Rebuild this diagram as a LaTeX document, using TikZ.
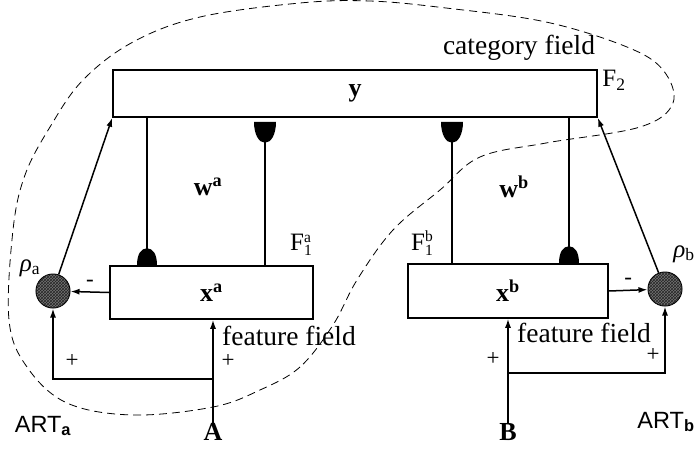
\documentclass[tikz,border=0pt]{standalone}
\usepackage{fontspec}
\setmainfont{Liberation Serif}
\setsansfont{Liberation Sans}
\usetikzlibrary{arrows.meta,patterns}

\newcommand{\fscript}[2]{\raisebox{-5pt}{\shortstack[l]{\fontsize{15.5}{16.5}\selectfont #2\\\fontsize{15.5}{16.5}\selectfont #1}}}

\tikzset{
  field/.style={draw, line width=1.5pt, inner sep=0pt, font=\fontsize{26}{28}\selectfont\bfseries},
  vigil/.style={circle, draw, line width=1pt, minimum size=34pt, inner sep=0pt, fill=black!55,
    postaction={pattern=crosshatch, pattern color=black!85}},
  conn/.style={line width=1.5pt, -{Latex[length=9pt,width=6pt]}},
  wire/.style={line width=1.3pt},
  txt/.style={font=\fontsize{27.5}{30}\selectfont, inner sep=0pt},
  var/.style={font=\fontsize{26}{28}\selectfont\bfseries, inner sep=0pt},
  fld/.style={font=\fontsize{25}{27}\selectfont, inner sep=0pt},
  sgn/.style={font=\fontsize{23}{24}\selectfont, inner sep=0pt},
  artlbl/.style={font=\fontsize{23.5}{26}\selectfont\sffamily, inner sep=0pt},
  dome/.pic={\fill (-10,0) -- (10,0) .. controls (10,-11) and (6,-17) .. (0,-17) .. controls (-6,-17) and (-10,-11) .. (-10,0) -- cycle;},
  cup/.pic={\fill (-11,0) -- (11,0) .. controls (11,13) and (6,21) .. (0,21) .. controls (-6,21) and (-11,13) .. (-11,0) -- cycle;}
}

\begin{document}
\begin{tikzpicture}[x=1pt, y=-1pt]
    \useasboundingbox (0,0) rectangle (696,448);

    % ART_a / ART_b boundary
    \draw[dash pattern=on 8pt off 5pt, line width=0.8pt] plot[smooth cycle, tension=0.6] coordinates {
        (333,325) (300,367) (260,390) (213,407) (133,415) (67,403) (27,367) (9,320)
        (13,230) (25,175) (50,127) (83,80) (133,42) (200,17) (300,3) (370,1) (446,8)
        (546,22) (627,47) (663,70) (673,103) (640,127) (546,143) (480,157) (440,190)
        (393,230) (357,280)};

    % fields
    \node[field, minimum width=484pt, minimum height=47pt] (ybox) at (355,93.5) {y};
    \node[field, minimum width=203pt, minimum height=53pt] (xa) at (211.5,292.5) {x\textsuperscript{a}};
    \node[field, minimum width=200pt, minimum height=54pt] (xb) at (508,291) {x\textsuperscript{b}};

    % vigilance nodes
    \node[vigil] (rhoa) at (53,291) {};
    \node[vigil] (rhob) at (665,289) {};

    % field labels
    \node[txt] (catlbl) at (519,48) {category field};
    \node[txt, anchor=west] (feata) at (222,336) {feature field};
    \node[txt, anchor=west] (featb) at (517,333) {feature field};
    \node[fld] (f2) at (614,80) {F\textsubscript{2}};
    \node[fld, anchor=west] (f1a) at (290,245) {F\fscript{1}{a}};
    \node[fld, anchor=west] (f1b) at (411,243) {F\fscript{1}{b}};
    \node[var] (wa) at (208,187) {w\textsuperscript{a}};
    \node[var] (wb) at (514,187) {w\textsuperscript{b}};
    \node[fld] (rhoalbl) at (30,268) {\textit{ρ}\textsubscript{a}};
    \node[fld] (rhoblbl) at (684,254) {\textit{ρ}\textsubscript{b}};

    % adaptive weights
    \coordinate (wa1) at (147,0);
    \coordinate (wa2) at (265,0);
    \coordinate (wb1) at (452,0);
    \coordinate (wb2) at (569,0);
    \draw[wire] (wa1 |- ybox.south) -- (wa1 |- xa.north);
    \pic at (wa1 |- xa.north) {dome};
    \draw[wire] (wa2 |- xa.north) -- ([yshift=-12pt]wa2 |- ybox.south);
    \pic at ([yshift=-4pt]wa2 |- ybox.south) {cup};
    \draw[wire] (wb1 |- xb.north) -- ([yshift=-12pt]wb1 |- ybox.south);
    \pic at ([yshift=-4pt]wb1 |- ybox.south) {cup};
    \draw[wire] (wb2 |- ybox.south) -- (wb2 |- xb.north);
    \pic at (wb2 |- xb.north) {dome};

    % reset paths
    \draw[conn] (rhoa) -- (ybox.south west);
    \draw[conn] (rhob) -- (ybox.south east);
    \draw[conn] (xa.west) -- (rhoa) node[sgn, midway, above=5pt] {-};
    \draw[conn] (xb.east) -- (rhob) node[sgn, midway, above=5pt] {-};

    % inputs
    \node[var] (A) at (213,432) {A};
    \node[var] (B) at (508,432) {B};
    \coordinate (ja) at (213,379);
    \coordinate (jb) at (508,373);
    \draw[conn] (A.north) -- (A |- xa.south);
    \draw[conn] (ja) -| (rhoa);
    \draw[conn] (B.north) -- (B |- xb.south);
    \draw[conn] (jb) -| (rhob);
    \node[sgn] (pa1) at (72,361) {+};
    \node[sgn] (pa2) at (228,361) {+};
    \node[sgn] (pb1) at (493,359) {+};
    \node[sgn] (pb2) at (653,355) {+};

    % module names
    \node[artlbl] (arta) at (43,426) {ART\textsubscript{\bfseries a}};
    \node[artlbl] (artb) at (666,422) {ART\textsubscript{\bfseries b}};
\end{tikzpicture}
\end{document}
